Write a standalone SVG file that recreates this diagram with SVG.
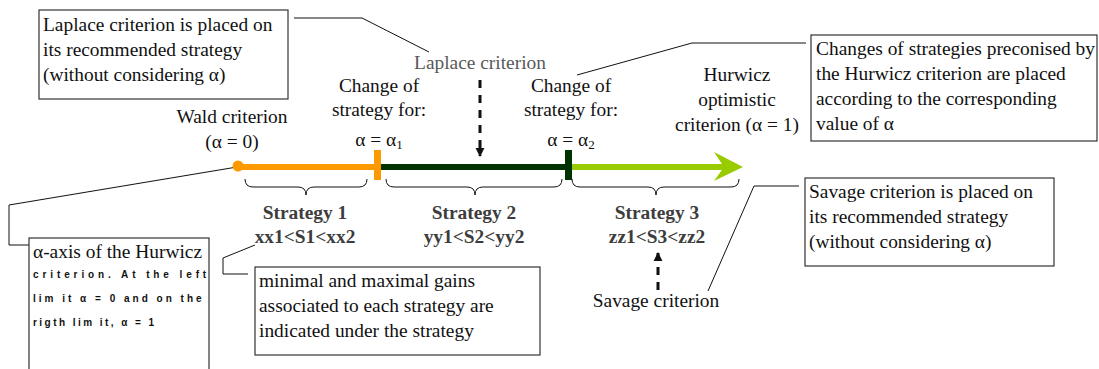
<svg xmlns="http://www.w3.org/2000/svg" width="1099" height="369" viewBox="0 0 1099 369">
<style>
.t{font-family:"Liberation Serif","Times New Roman",serif;font-size:19.4px;fill:#111}
.c{text-anchor:middle}
.g{fill:#595959}
.b{font-weight:bold;fill:#3d3d3d}
.s{font-family:"Liberation Sans",Arial,sans-serif;font-size:10px;font-weight:bold;fill:#111}
.s1{letter-spacing:3.9px}
.s2{letter-spacing:3px}
.s3{letter-spacing:2.45px}
.box{fill:#fff;stroke:#333;stroke-width:1.2}
.lead{fill:none;stroke:#111;stroke-width:1}
.brace{fill:none;stroke:#111;stroke-width:1}
.dash{fill:none;stroke:#111;stroke-width:3;stroke-dasharray:8 7}
</style>
<defs>
<marker id="ah" viewBox="0 0 10 10" refX="9" refY="5" markerWidth="3" markerHeight="3.2" orient="auto" markerUnits="strokeWidth">
<path d="M0,0 L10,5 L0,10 z" fill="#111"/>
</marker>
</defs>
<rect width="1099" height="369" fill="#fff"/>

<g id="connectors">
<polyline class="lead" points="294,18 362,18 429,52"/>
<polyline class="lead" points="806,43 692,43 577,75"/>
<polyline class="lead" points="29,245 9,245 9,205 237,167"/>
<polyline class="lead" points="248,274 223,274 223,258 255,245"/>
<polyline class="lead" points="799,186 754,186 708,291"/>
<line class="dash" x1="480" y1="80" x2="480" y2="156" marker-end="url(#ah)"/>
<line class="dash" x1="658" y1="290" x2="658" y2="253" marker-end="url(#ah)"/>
</g>

<g id="axis">
<line x1="238" y1="167" x2="377" y2="167" stroke="#FF9900" stroke-width="6"/>
<line x1="377" y1="167" x2="568" y2="167" stroke="#003300" stroke-width="6"/>
<line x1="568" y1="167" x2="726" y2="167" stroke="#99CC00" stroke-width="6"/>
<polygon points="743,167 714,152 724,167 714,181" fill="#99CC00"/>
<circle cx="238" cy="166" r="5.5" fill="#FF9900"/>
<rect x="374" y="150" width="7" height="30" fill="#FF9900"/>
<rect x="565" y="150" width="7" height="30" fill="#003300"/>
</g>

<g id="braces">
<path class="brace" d="M245,179 Q245,187 253,187 L298,187 Q306,187 306,195 Q306,187 314,187 L359,187 Q367,187 367,179"/>
<path class="brace" d="M386,179 Q386,187 394,187 L467,187 Q475,187 475,195 Q475,187 483,187 L554,187 Q562,187 562,179"/>
<path class="brace" d="M572,179 Q572,187 580,187 L648,187 Q656,187 656,195 Q656,187 664,187 L731,187 Q739,187 739,179"/>
</g>

<g id="laplace-box">
<rect class="box" x="39" y="10" width="249" height="89"/>
<text class="t" x="43" y="31">Laplace criterion is placed on</text>
<text class="t" x="43" y="56">its recommended strategy</text>
<text class="t" x="43" y="81">(without considering α)</text>
</g>

<g id="hurwicz-box">
<rect class="box" x="811" y="35" width="286" height="106"/>
<text class="t" x="816" y="55">Changes of strategies preconised by</text>
<text class="t" x="816" y="80">the Hurwicz criterion are placed</text>
<text class="t" x="816" y="105">according to the corresponding</text>
<text class="t" x="816" y="130">value of α</text>
</g>

<g id="savage-box">
<rect class="box" x="805" y="178" width="249" height="88"/>
<text class="t" x="809" y="198">Savage criterion is placed on</text>
<text class="t" x="809" y="223">its recommended strategy</text>
<text class="t" x="809" y="248">(without considering α)</text>
</g>

<g id="alpha-box">
<rect class="box" x="29" y="238" width="180" height="150"/>
<text class="t" x="33" y="258">α-axis of the Hurwicz</text>
<text class="s s1" x="33" y="278">criterion. At the left</text>
<text class="s s2" x="33" y="302">lim it α = 0 and on the</text>
<text class="s s3" x="33" y="326">rigth lim it, α = 1</text>
</g>

<g id="gains-box">
<rect class="box" x="255" y="267" width="285" height="88"/>
<text class="t" x="259" y="287">minimal and maximal gains</text>
<text class="t" x="259" y="312">associated to each strategy are</text>
<text class="t" x="259" y="337">indicated under the strategy</text>
</g>

<g id="wald">
<text class="t c" x="232" y="123">Wald criterion</text>
<text class="t c" x="232" y="148">(α = 0)</text>
</g>

<g id="change1">
<text class="t c" x="379" y="92">Change of</text>
<text class="t c" x="379" y="116">strategy for:</text>
<text class="t c" x="379" y="146">α = α<tspan font-size="13" dy="3">1</tspan></text>
</g>

<g id="change2">
<text class="t c" x="571" y="92">Change of</text>
<text class="t c" x="571" y="116">strategy for:</text>
<text class="t c" x="571" y="146">α = α<tspan font-size="13" dy="3">2</tspan></text>
</g>

<g id="laplace-label">
<text class="t c g" x="480" y="69">Laplace criterion</text>
</g>

<g id="hurwicz-label">
<text class="t c" x="737" y="81">Hurwicz</text>
<text class="t c" x="737" y="106">optimistic</text>
<text class="t c" x="737" y="131">criterion (α = 1)</text>
</g>

<g id="strategy1">
<text class="t c b" x="305" y="219">Strategy 1</text>
<text class="t c b" x="305" y="243">xx1&lt;S1&lt;xx2</text>
</g>
<g id="strategy2">
<text class="t c b" x="474" y="219">Strategy 2</text>
<text class="t c b" x="474" y="243">yy1&lt;S2&lt;yy2</text>
</g>
<g id="strategy3">
<text class="t c b" x="657" y="219">Strategy 3</text>
<text class="t c b" x="657" y="243">zz1&lt;S3&lt;zz2</text>
</g>

<g id="savage-label">
<text class="t c" x="656" y="307">Savage criterion</text>
</g>
</svg>
